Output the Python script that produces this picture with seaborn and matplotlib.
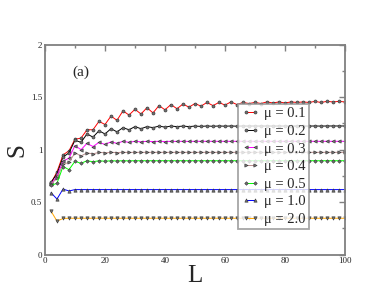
import numpy as np
import pandas as pd
import seaborn as sns
import matplotlib
matplotlib.use("Agg")
import matplotlib.pyplot as plt
from matplotlib.ticker import MultipleLocator

L = list(range(2, 101, 2))

s_01 = [0.68, 0.79, 0.95, 0.99, 1.10, 1.11, 1.19, 1.19, 1.27, 1.24,
        1.32, 1.28, 1.37, 1.33, 1.385, 1.34, 1.40, 1.35, 1.42, 1.38,
        1.43, 1.39, 1.435, 1.405, 1.44, 1.415, 1.45, 1.42, 1.45, 1.425,
        1.455, 1.43, 1.45, 1.44, 1.45, 1.44, 1.455, 1.445, 1.455, 1.445,
        1.455, 1.45, 1.455, 1.45, 1.46, 1.45, 1.46, 1.455, 1.46, 1.455]
s_02 = [0.69, 0.77, 0.93, 0.97, 1.09, 1.07, 1.15, 1.12, 1.18, 1.15,
        1.20, 1.17, 1.21, 1.19, 1.22, 1.20, 1.22, 1.21, 1.225, 1.215,
        1.225, 1.22, 1.225, 1.22, 1.225, 1.222, 1.226, 1.223, 1.226, 1.224,
        1.226, 1.224, 1.226, 1.225, 1.226, 1.225, 1.226, 1.225, 1.226, 1.225,
        1.226, 1.225, 1.226, 1.225, 1.226, 1.225, 1.226, 1.226, 1.226, 1.226]
s_03 = [0.67, 0.75, 0.89, 0.92, 1.04, 1.00, 1.06, 1.03, 1.07, 1.05,
        1.075, 1.06, 1.08, 1.07, 1.08, 1.075, 1.08, 1.078, 1.08, 1.078,
        1.08, 1.079, 1.08, 1.079, 1.08, 1.08, 1.08, 1.08, 1.08, 1.08,
        1.08, 1.08, 1.08, 1.08, 1.08, 1.08, 1.08, 1.08, 1.08, 1.08,
        1.08, 1.08, 1.08, 1.08, 1.08, 1.08, 1.08, 1.08, 1.08, 1.08]
s_04 = [0.67, 0.73, 0.86, 0.88, 0.97, 0.94, 0.97, 0.96, 0.975, 0.97,
        0.975, 0.973, 0.975, 0.974, 0.975, 0.975, 0.975, 0.975, 0.975, 0.975,
        0.975, 0.975, 0.975, 0.975, 0.975, 0.975, 0.975, 0.975, 0.975, 0.975,
        0.975, 0.975, 0.975, 0.975, 0.975, 0.975, 0.975, 0.975, 0.975, 0.975,
        0.975, 0.975, 0.975, 0.975, 0.975, 0.975, 0.975, 0.975, 0.975, 0.975]
s_05 = [0.66, 0.68, 0.84, 0.81, 0.89, 0.87, 0.895, 0.885, 0.895, 0.89,
        0.895, 0.893, 0.895, 0.894, 0.895, 0.895, 0.895, 0.895, 0.895, 0.895,
        0.895, 0.895, 0.895, 0.895, 0.895, 0.895, 0.895, 0.895, 0.895, 0.895,
        0.895, 0.895, 0.895, 0.895, 0.895, 0.895, 0.895, 0.895, 0.895, 0.895,
        0.895, 0.895, 0.895, 0.895, 0.895, 0.895, 0.895, 0.895, 0.895, 0.895]
s_10 = [0.59, 0.53, 0.625, 0.607, 0.62, 0.62, 0.62, 0.62, 0.62, 0.62,
        0.62, 0.62, 0.62, 0.62, 0.62, 0.62, 0.62, 0.62, 0.62, 0.62,
        0.62, 0.62, 0.62, 0.62, 0.62, 0.62, 0.62, 0.62, 0.62, 0.62,
        0.62, 0.62, 0.62, 0.62, 0.62, 0.62, 0.62, 0.62, 0.62, 0.62,
        0.62, 0.62, 0.62, 0.62, 0.62, 0.62, 0.62, 0.62, 0.62, 0.62]
s_20 = [0.415, 0.32, 0.345, 0.347, 0.347, 0.347, 0.347, 0.347, 0.347, 0.347,
        0.347, 0.347, 0.347, 0.347, 0.347, 0.347, 0.347, 0.347, 0.347, 0.347,
        0.347, 0.347, 0.347, 0.347, 0.347, 0.347, 0.347, 0.347, 0.347, 0.347,
        0.347, 0.347, 0.347, 0.347, 0.347, 0.347, 0.347, 0.347, 0.347, 0.347,
        0.347, 0.347, 0.347, 0.347, 0.347, 0.347, 0.347, 0.347, 0.347, 0.347]

labels = ["μ = 0.1", "μ = 0.2", "μ = 0.3", "μ = 0.4", "μ = 0.5", "μ = 1.0", "μ = 2.0"]
series = [s_01, s_02, s_03, s_04, s_05, s_10, s_20]
colors = ["#ff0000", "#000000", "#ff00ff", "#bc8f8f", "#00ff00", "#0000ff", "#ffa500"]
markers = ["o", "o", "<", ">", "D", "^", "v"]
msizes = [2.2, 2.2, 2.4, 2.4, 1.8, 2.4, 2.4]

sns.set_style("white")
plt.rcParams["font.family"] = ["Liberation Serif", "DejaVu Serif"]

fig = plt.figure(figsize=(3.88, 3.0), dpi=100)
ax = fig.add_axes([0.116, 0.151, 0.773, 0.700])

for lab, s, c, m, ms in zip(labels, series, colors, markers, msizes):
    df = pd.DataFrame({"L": L, "S": s})
    sns.lineplot(data=df, x="L", y="S", ax=ax, color=c, lw=0.7,
                 marker=m, markersize=ms, markerfacecolor="#707070",
                 markeredgecolor="#303030", markeredgewidth=0.4, label=lab)

ax.set_xlim(0, 100)
ax.set_ylim(0, 2)
ax.xaxis.set_major_locator(MultipleLocator(20))
ax.xaxis.set_minor_locator(MultipleLocator(10))
ax.yaxis.set_major_locator(MultipleLocator(0.5))
ax.yaxis.set_minor_locator(MultipleLocator(0.25))
ax.set_xticks([0, 20, 40, 60, 80, 100])
ax.set_xticklabels(["0", "20", "40", "60", "80", "100"])
ax.set_yticks([0, 0.5, 1, 1.5, 2])
ax.set_yticklabels(["0", "0.5", "1", "1.5", "2"])
ax.tick_params(which="both", direction="in", top=True, right=True,
               color="#808080", labelsize=6.5, pad=2)
ax.tick_params(which="major", length=4, width=1)
ax.tick_params(which="minor", length=2, width=1)
for sp in ax.spines.values():
    sp.set_color("#808080")
    sp.set_linewidth(1.3)

ax.set_xlabel("L", fontsize=18, labelpad=0)
ax.set_ylabel("S", fontsize=18, labelpad=2)
ax.text(9, 1.7, "(a)", fontsize=11)

leg = ax.legend(loc="upper left", bbox_to_anchor=(0.645, 0.72), fontsize=10.5,
                frameon=True, fancybox=False, numpoints=2, handlelength=1.2,
                handletextpad=0.3, labelspacing=0.3, borderpad=0.25,
                borderaxespad=0)
leg.get_frame().set_edgecolor("#909090")
leg.get_frame().set_linewidth(1.3)

fig.savefig("out.png", dpi=100)
